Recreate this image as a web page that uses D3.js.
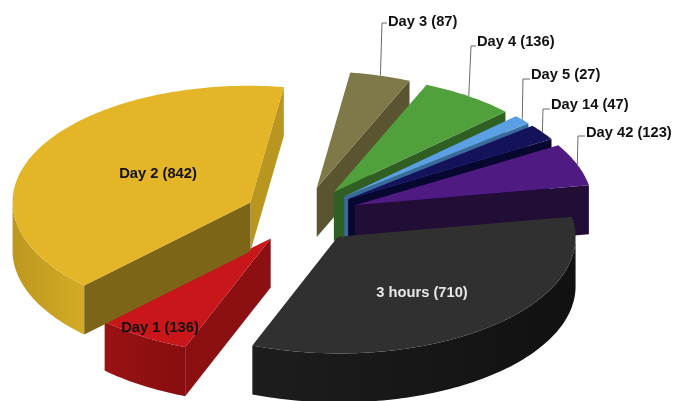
<!DOCTYPE html>
<html>
<head>
<meta charset="utf-8">
<script src="https://cdn.jsdelivr.net/npm/d3@7"></script>
<style>
html,body{margin:0;padding:0;background:#fff;overflow:hidden}
svg{display:block;filter:blur(0.35px)}
text{font-family:"Liberation Sans",Arial,sans-serif;font-weight:bold;font-size:14.7px}
</style>
</head>
<body>
<script>
// Data, clockwise from the pie's start angle
const categories = ["3 hours","Day 1","Day 2","Day 3","Day 4","Day 5","Day 14","Day 42"];
const values = [710,136,842,87,136,27,47,123];

// Styles
const topColors  = ["#303030","#C8161A","#E3B527","#7F7848","#50A03C","#5B9FE4","#14125A","#4F1A82"];
const nearWall   = ["#141414","#8C0F11","#7C6517","#5A5431","#2F5F23","#3A6A9C","#070730","#210D36"];
const arcLeft    = ["#1D1D1D","#9A1214","#BC981F","#5A5431","#2F5F23","#3A6A9C","#070730","#210D36"];
const arcRight   = ["#111111","#860D0F","#D4AB25","#5A5431","#2F5F23","#3A6A9C","#070730","#210D36"];
const farWall    = ["#141414","#8C0F11","#B8961F","#5A5431","#2F5F23","#3A6A9C","#070730","#210D36"];
const labelColor = ["#E8E8E8","#111","#111","#111","#111","#111","#111","#111"];

// Projection of the tilted pie plane
const W = 675, H = 401;
const centre = [301.5,215], axisA = [234,-20], axisB = [42,115];
const explode = 0.24, depth = 49;
const drawOrder = [3,4,5,6,7,1,2,0];

// Label layout: inside labels have a centre; outside ones have elbow and text start
const labelAt = {
  "3 hours":{c:[422,292]}, "Day 1":{c:[160,327]}, "Day 2":{c:[158,173]},
  "Day 3":{e:[382,23], t:[388,26]},
  "Day 4":{e:[471,46], t:[477,46]},
  "Day 5":{e:[523,79], t:[531,79]},
  "Day 14":{e:[543,109], t:[551,109]},
  "Day 42":{e:[578,136], t:[586,137]}
};

const svg = d3.select("body").append("svg").attr("width",W).attr("height",H);
const defs = svg.append("defs");
const pie = d3.pie().sort(null).startAngle(0).endAngle(2*Math.PI);
const arcs = pie(values);
const plane = a => [axisA[0]*Math.cos(a)+axisB[0]*Math.sin(a), axisA[1]*Math.cos(a)+axisB[1]*Math.sin(a)];
const line = d3.line();

const slices = arcs.map((d,i)=>{
  const mid = (d.startAngle+d.endAngle)/2, m = plane(mid);
  const apex = [centre[0]+explode*m[0], centre[1]+explode*m[1]];
  const n = Math.max(2,Math.ceil((d.endAngle-d.startAngle)/0.02));
  const rim = d3.range(n+1).map(k=>{
    const p = plane(d.startAngle+(d.endAngle-d.startAngle)*k/n);
    return [apex[0]+p[0],apex[1]+p[1]];
  });
  return {i,mid,apex,rim,name:categories[i],value:d.value,
    outer:[apex[0]+m[0],apex[1]+m[1]]};
});

const wall = (p,q)=>[p,q,[q[0],q[1]+depth],[p[0],p[1]+depth]];

drawOrder.forEach(idx=>{
  const s = slices[idx], g = svg.append("g"), i = s.i;
  const rim = s.rim, first = rim[0], last = rim[rim.length-1];
  // radial walls: visible when the edge runs leftwards on screen
  if (s.apex[0]-last[0] < 0 )
    g.append("path").attr("d",line(wall(last,s.apex))+"Z").attr("fill",farWall[i]);
  // outer wall
  const vis = rim.map((p,k)=>k?p[0]<rim[k-1][0]:false);
  const kept = rim.filter((p,k)=>vis[k]||vis[k+1]);
  if (kept.length>1){
    const xs = d3.extent(kept,p=>p[0]);
    const id = "w"+i;
    const gr = defs.append("linearGradient").attr("id",id).attr("gradientUnits","userSpaceOnUse")
      .attr("x1",xs[0]).attr("x2",xs[1]).attr("y1",0).attr("y2",0);
    gr.append("stop").attr("offset",0).attr("stop-color",arcLeft[i]);
    gr.append("stop").attr("offset",1).attr("stop-color",arcRight[i]);
    const low = kept.map(p=>[p[0],p[1]+depth]).reverse();
    g.append("path").attr("d",line(kept.concat(low))+"Z").attr("fill",`url(#${id})`);
  }
  if (first[0]-s.apex[0] < 0)
    g.append("path").attr("d",line(wall(s.apex,first))+"Z").attr("fill",nearWall[i]);
  // top face
  g.append("path").attr("d",line([s.apex].concat(rim))+"Z").attr("fill",topColors[i]);
});

// Leaders and labels
slices.forEach(s=>{
  const l = labelAt[s.name], txt = `${s.name} (${s.value})`;
  if (l.c){
    svg.append("text").attr("x",l.c[0]).attr("y",l.c[1]).attr("dy","0.35em")
      .attr("text-anchor","middle").attr("fill",labelColor[s.i]).text(txt);
  } else {
    svg.append("path").attr("fill","none").attr("stroke","#6a6a6a").attr("stroke-width",1)
      .attr("d",line([s.outer,l.e,[l.t[0]-1,l.e[1]]]));
    svg.append("text").attr("x",l.t[0]).attr("y",l.t[1]-5).attr("dy","0.35em")
      .attr("fill",labelColor[s.i]).text(txt);
  }
});
</script>
</body>
</html>
